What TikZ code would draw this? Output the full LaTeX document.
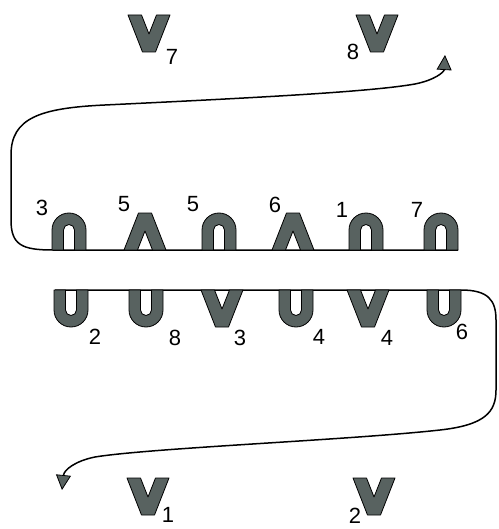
\documentclass[tikz,border=0pt]{standalone}
\usepackage{fontspec}
\setmainfont{Liberation Sans}
\usepackage{tikz}
\usetikzlibrary{arrows.meta,calc}
\definecolor{glyph}{RGB}{88,98,96}

\tikzset{
  glyphbox/.style={fill=glyph,draw=black,line width=0.8pt,line join=round},
  wire/.style={draw=black,line width=1.5pt},
  num/.style={font=\fontsize{22}{22}\selectfont,inner sep=0pt},
  pics/cup/.style={code={
    \draw[glyphbox] (-17,0) -- (-17,-20) arc (180:360:17) -- (17,0) -- (5.5,0)
      -- (5.5,-20) arc (0:-180:5.5) -- (-5.5,0) -- cycle;
  }},
  pics/vee/.style={code={
    \draw[glyphbox] (-21,0) -- (-7.5,0) -- (0,-19) -- (7.5,0) -- (21,0)
      -- (6.5,-37) -- (-6.5,-37) -- cycle;
  }},
}

\begin{document}
\begin{tikzpicture}[x=1pt,y=1pt]
\useasboundingbox (0,0) rectangle (498,-529);

% ends of the two wires
\coordinate (topL) at (53,-250);
\coordinate (topR) at (458,-250);
\coordinate (topTip) at (445,-55);
\coordinate (botL) at (55,-290);
\coordinate (botR) at (461,-290);
\coordinate (botTip) at (62,-490);

% upper wire
\draw[wire,-{Triangle[length=15pt,width=15pt,fill=glyph,line width=0.8pt]}]
  (topR) -- (topL) .. controls (22,-250) and (11,-245) .. (11,-220) -- (11,-155)
  .. controls (11,-118) and (40,-108) .. (105,-105)
  .. controls (250,-98) and (370,-92) .. (415,-84)
  .. controls (435,-80) and (444,-72) .. (topTip);

% lower wire
\draw[wire,-{Triangle[length=15pt,width=15pt,fill=glyph,line width=0.8pt]}]
  (botL) -- (botR) .. controls (488,-290) and (496,-300) .. (496,-320) -- (496,-390)
  .. controls (496,-412) and (485,-425) .. (440,-430)
  .. controls (350,-440) and (150,-448) .. (95,-457)
  .. controls (75,-461) and (64,-470) .. (botTip);

% upper row
\pic[yscale=-1] (a1) at (69,-250) {cup};
\pic[yscale=-1] (a2) at (145,-250) {vee};
\pic[yscale=-1] (a3) at (219,-250) {cup};
\pic[yscale=-1] (a4) at (293,-250) {vee};
\pic[yscale=-1] (a5) at (366,-250) {cup};
\pic[yscale=-1] (a6) at (441,-250) {cup};
\node[num] (n1) at (42,-208) {3};
\node[num] (n2) at (124,-204) {5};
\node[num] (n3) at (193,-204) {5};
\node[num] (n4) at (275,-205) {6};
\node[num] (n5) at (342,-210) {1};
\node[num] (n6) at (417,-210) {7};

% lower row
\pic (b1) at (71,-290) {cup};
\pic (b2) at (146,-290) {cup};
\pic (b3) at (222,-290) {vee};
\pic (b4) at (296,-290) {cup};
\pic (b5) at (368,-290) {vee};
\pic (b6) at (444,-290) {cup};
\node[num] (m1) at (95,-337) {2};
\node[num] (m2) at (175,-338) {8};
\node[num] (m3) at (240,-338) {3};
\node[num] (m4) at (319,-337) {4};
\node[num] (m5) at (387,-338) {4};
\node[num] (m6) at (462,-332) {6};

% loose V's
\pic (v7) at (149,-15) {vee};
\pic (v8) at (377,-15) {vee};
\pic (v1) at (148,-478) {vee};
\pic (v2) at (374,-478) {vee};
\node[num] (s7) at (172,-57) {7};
\node[num] (s8) at (353,-52) {8};
\node[num] (s1) at (168,-515) {1};
\node[num] (s2) at (355,-516) {2};
\end{tikzpicture}
\end{document}
